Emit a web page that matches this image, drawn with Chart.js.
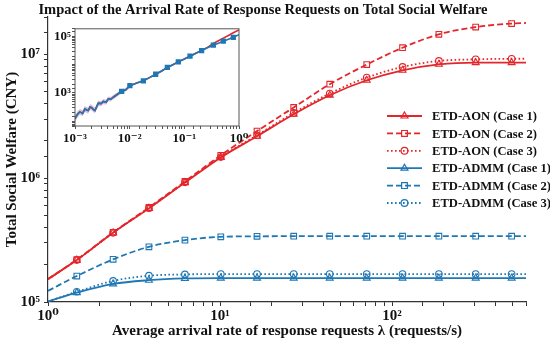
<!DOCTYPE html>
<html>
<head>
<meta charset="utf-8">
<script src="https://cdn.jsdelivr.net/npm/chart.js@4.4.1/dist/chart.umd.min.js"></script>
<style>
  html, body { margin: 0; padding: 0; background: #fff; }
  #wrap { position: relative; width: 550px; height: 345px; }
  #main-graph { position: absolute; left: 0; top: 0; }
  #inset-graph { position: absolute; left: 38px; top: 20px; }
</style>
</head>
<body>
<div id="wrap">
  <canvas id="main-graph" width="550" height="345"></canvas>
  <canvas id="inset-graph" width="213" height="124"></canvas>
</div>
<script>
// --< Data >--
const lambdaX = [1, 1.47, 2.39, 3.86, 6.25, 10.1, 16.4, 26.8, 43.4, 71.2, 115, 187, 306, 495, 600];
const aonCase1 = [1.53e5, 2.18e5, 3.62e5, 5.7e5, 9.2e5, 1.47e6, 2.18e6, 3.28e6, 4.67e6, 6.17e6, 7.43e6, 8.3e6, 8.57e6, 8.57e6, 8.57e6];
const aonCase2 = [1.53e5, 2.2e5, 3.65e5, 5.8e5, 9.4e5, 1.53e6, 2.4e6, 3.72e6, 5.73e6, 8.26e6, 1.13e7, 1.45e7, 1.66e7, 1.77e7, 1.79e7];
const aonCase3 = [1.53e5, 2.18e5, 3.62e5, 5.72e5, 9.25e5, 1.48e6, 2.22e6, 3.36e6, 4.82e6, 6.49e6, 7.9e6, 8.84e6, 9.1e6, 9.2e6, 9.2e6];
const admmCase1 = [1.01e5, 1.19e5, 1.40e5, 1.50e5, 1.55e5, 1.56e5, 1.56e5, 1.56e5, 1.56e5, 1.56e5, 1.56e5, 1.56e5, 1.56e5, 1.56e5, 1.56e5];
const admmCase2 = [1.23e5, 1.62e5, 2.21e5, 2.79e5, 3.16e5, 3.36e5, 3.39e5, 3.4e5, 3.4e5, 3.4e5, 3.4e5, 3.4e5, 3.4e5, 3.4e5, 3.4e5];
const admmCase3 = [1.01e5, 1.21e5, 1.48e5, 1.63e5, 1.67e5, 1.68e5, 1.68e5, 1.68e5, 1.68e5, 1.68e5, 1.68e5, 1.68e5, 1.68e5, 1.68e5, 1.68e5];
const seriesLabels = ["ETD-AON (Case 1)", "ETD-AON (Case 2)", "ETD-AON (Case 3)", "ETD-ADMM (Case 1)", "ETD-ADMM (Case 2)", "ETD-ADMM (Case 3)"];

// inset (low arrival rates)
const insetX = [0.001, 0.00112, 0.00123, 0.00138, 0.00152, 0.00163, 0.00175, 0.00188, 0.00202, 0.00216, 0.00232, 0.0025, 0.00267, 0.003, 0.0033, 0.0037, 0.00407, 0.0045, 0.00502, 0.006, 0.00714, 0.0085, 0.0101, 0.0135, 0.0178, 0.023, 0.0299, 0.0385, 0.0489, 0.0615, 0.0776, 0.1, 0.127, 0.163, 0.207, 0.265, 0.339, 0.42, 0.516, 0.64, 0.787, 1.0];
const insetAdmm = [123, 180, 214, 190, 275, 250, 240, 320, 302, 265, 240, 330, 437, 420, 501, 470, 617, 600, 708, 900, 1150, 1300, 1820, 2250, 2690, 3500, 4600, 6000, 8000, 10000, 12600, 15800, 20000, 25500, 31600, 39800, 49000, 57500, 67600, 80000, 93300, 115000];
const insetAon = [123, 180, 214, 190, 275, 250, 240, 320, 302, 265, 240, 330, 437, 420, 501, 470, 617, 600, 708, 900, 1150, 1300, 1820, 2250, 2690, 3500, 4600, 6000, 8000, 10000, 12600, 15800, 20000, 25500, 31600, 41000, 56000, 70000, 87000, 108000, 135000, 170000];
const bandLo = [95, 140, 170, 150, 215, 195, 190, 255, 240, 210, 195, 265, 350, 340, 410, 385, 510, 500, 590, 760, 980, 1120, 1580];
const bandHi = [160, 230, 270, 245, 350, 320, 305, 400, 380, 335, 305, 415, 540, 520, 615, 575, 745, 720, 850, 1070, 1350, 1510, 2100];
// --</ Data >--

const RED = '#e3262b';
const BLUE = '#1f77b4';
const AXIS = '#333';
const SERIF = "'Liberation Serif', 'Times New Roman', 'DejaVu Serif', serif";
const SUP = { '0': '⁰', '1': '¹', '2': '²', '3': '³', '4': '⁴', '5': '⁵', '6': '⁶', '7': '⁷', '8': '⁸', '9': '⁹', '-': '⁻' };

function pow10Label(v, onlyOdd = false) {
  const e = Math.log10(v);
  const r = Math.round(e);
  if (Math.abs(e - r) > 1e-6) return '';
  if (onlyOdd && Math.abs(r % 2) !== 1) return '';
  return '10' + String(r).split('').map(c => SUP[c]).join('');
}

function keepInRange(scale) {
  scale.ticks = scale.ticks.filter(t => t.value >= scale.min * 0.9999 && t.value <= scale.max * 1.0001);
}

function toPoints(xs, ys) { return ys.map((y, i) => ({ x: xs[i], y: y })); }

// --< Main Graph >--
function drawMarker(ctx, style, x, y, r) {
  ctx.beginPath();
  if (style === 'triangle') {
    ctx.moveTo(x, y - r);
    ctx.lineTo(x + r * 0.87, y + r * 0.5);
    ctx.lineTo(x - r * 0.87, y + r * 0.5);
    ctx.closePath();
  } else if (style === 'rect') {
    const h = r * 0.72;
    ctx.rect(x - h, y - h, h * 2, h * 2);
  } else {
    ctx.arc(x, y, r * 0.85, 0, Math.PI * 2);
  }
  ctx.stroke();
}

const legendPlugin = {
  id: 'cornerLegend',
  afterDraw(chart) {
    const ctx = chart.ctx;
    const area = chart.chartArea;
    const x0 = area.right - 139;
    chart.data.datasets.forEach((ds, i) => {
      const y = area.top + 99 + i * 17.4;
      ctx.save();
      ctx.strokeStyle = ds.borderColor;
      ctx.lineWidth = ds.borderWidth;
      ctx.setLineDash(ds.borderDash || []);
      ctx.beginPath();
      ctx.moveTo(x0, y);
      ctx.lineTo(x0 + 35, y);
      ctx.stroke();
      ctx.setLineDash([]);
      ctx.lineWidth = 1.2;
      drawMarker(ctx, ds.pointStyle, x0 + 17.5, y, 4);
      ctx.fillStyle = '#111';
      ctx.font = `bold 12.6px ${SERIF}`;
      ctx.textAlign = 'left';
      ctx.textBaseline = 'middle';
      ctx.fillText(ds.label, x0 + 45, y + 1);
      ctx.restore();
    });
  }
};

function Load_MainGraph() {
  const lastIdx = lambdaX.length - 1;
  const markerRadius = (r) => (c) => (c.dataIndex === 0 || c.dataIndex === lastIdx) ? 0 : r;
  const makeSet = (label, ys, color, dash, style) => ({
    label: label,
    data: toPoints(lambdaX, ys),
    borderColor: color,
    borderWidth: 1.8,
    borderDash: dash,
    pointStyle: style,
    pointRadius: markerRadius(style === 'circle' ? 3.3 : 4),
    pointBorderWidth: 1.1,
    pointBorderColor: color,
    pointBackgroundColor: 'transparent',
    cubicInterpolationMode: 'monotone',
    fill: false,
  });

  new Chart(document.getElementById('main-graph'), {
    type: 'line',
    data: {
      datasets: [
        makeSet(seriesLabels[0], aonCase1, RED, [], 'triangle'),
        makeSet(seriesLabels[1], aonCase2, RED, [6, 3], 'rect'),
        makeSet(seriesLabels[2], aonCase3, RED, [1.6, 2.4], 'circle'),
        makeSet(seriesLabels[3], admmCase1, BLUE, [], 'triangle'),
        makeSet(seriesLabels[4], admmCase2, BLUE, [6, 3], 'rect'),
        makeSet(seriesLabels[5], admmCase3, BLUE, [1.6, 2.4], 'circle'),
      ]
    },
    options: {
      responsive: false,
      animation: false,
      layout: { padding: { left: 0, right: 24, top: 0, bottom: 0 } },
      plugins: {
        legend: { display: false },
        tooltip: { enabled: false },
        title: {
          display: true,
          text: 'Impact of the Arrival Rate of Response Requests on Total Social Welfare',
          color: '#111',
          font: { family: SERIF, size: 14.5, weight: 'bold', lineHeight: 1.0 },
          padding: { top: 2.5, bottom: 0 },
        }
      },
      scales: {
        x: {
          type: 'logarithmic',
          min: 1,
          max: 600,
          afterFit: (s) => { s.height = 43; },
          afterBuildTicks: keepInRange,
          border: { display: true, color: AXIS, width: 1.2 },
          grid: { drawOnChartArea: false, drawTicks: true, tickLength: 4, tickColor: AXIS },
          ticks: {
            autoSkip: false, maxRotation: 0, minRotation: 0, padding: 1, color: '#111',
            font: { family: SERIF, size: 15, weight: 'bold' },
            callback: (v) => pow10Label(v),
          },
          title: {
            display: true,
            text: 'Average arrival rate of response requests λ (requests/s)',
            color: '#111',
            font: { family: SERIF, size: 15, weight: 'bold' },
            padding: { top: 0, bottom: 5 },
          }
        },
        y: {
          type: 'logarithmic',
          min: 1e5,
          max: 2e7,
          afterFit: (s) => { s.width = 48; },
          afterBuildTicks: keepInRange,
          border: { display: true, color: AXIS, width: 1.2 },
          grid: { drawOnChartArea: false, drawTicks: true, tickLength: 4, tickColor: AXIS },
          ticks: {
            autoSkip: false, padding: 4, color: '#111',
            font: { family: SERIF, size: 15, weight: 'bold' },
            callback: (v) => pow10Label(v),
          },
          title: {
            display: true,
            text: 'Total Social Welfare (CNY)',
            color: '#111',
            font: { family: SERIF, size: 15, weight: 'bold' },
            padding: { top: 3, bottom: 0 },
          }
        }
      }
    },
    plugins: [legendPlugin]
  });
}
// --</ Main Graph >--


// --< Inset Graph >--
const insetFramePlugin = {
  id: 'insetFrame',
  beforeDraw(chart) {
    const a = chart.chartArea;
    const ctx = chart.ctx;
    ctx.save();
    ctx.fillStyle = '#fff';
    ctx.fillRect(a.left, a.top, a.right - a.left, a.bottom - a.top);
    ctx.restore();
  },
  afterDraw(chart) {
    const a = chart.chartArea;
    const ctx = chart.ctx;
    ctx.save();
    ctx.strokeStyle = '#555';
    ctx.lineWidth = 1;
    ctx.strokeRect(a.left, a.top, a.right - a.left, a.bottom - a.top);
    ctx.restore();
  }
};

function Load_InsetGraph() {
  const bandX = insetX.slice(0, bandLo.length);
  new Chart(document.getElementById('inset-graph'), {
    type: 'line',
    data: {
      datasets: [
        {
          data: toPoints(insetX, insetAdmm),
          borderColor: BLUE, borderWidth: 1.6,
          pointStyle: 'rect',
          pointRadius: (c) => (c.dataIndex >= 20 && c.dataIndex % 2 === 0) ? 2.6 : 0,
          pointBackgroundColor: BLUE, pointBorderColor: BLUE,
          fill: false,
        },
        {
          data: toPoints(insetX, insetAon),
          borderColor: RED, borderWidth: 1.6, pointRadius: 0, fill: false,
        },
        {
          data: toPoints(bandX, bandLo),
          borderWidth: 0, pointRadius: 0, fill: false,
        },
        {
          data: toPoints(bandX, bandHi),
          borderWidth: 0, pointRadius: 0,
          fill: '-1', backgroundColor: 'rgba(150, 100, 165, 0.4)',
        },
      ]
    },
    options: {
      responsive: false,
      animation: false,
      layout: { padding: { left: 0, right: 12, top: 7, bottom: 0 } },
      plugins: { legend: { display: false }, tooltip: { enabled: false } },
      scales: {
        x: {
          type: 'logarithmic',
          min: 0.001,
          max: 1,
          afterFit: (s) => { s.height = 18; },
          afterBuildTicks: keepInRange,
          border: { display: false },
          grid: { drawOnChartArea: false, drawTicks: true, tickLength: 3, tickColor: '#555' },
          ticks: {
            autoSkip: false, maxRotation: 0, minRotation: 0, padding: 2, color: '#111',
            font: { family: SERIF, size: 13, weight: 'bold' },
            callback: (v) => pow10Label(v),
          }
        },
        y: {
          type: 'logarithmic',
          min: 68,
          max: 1.86e5,
          afterFit: (s) => { s.width = 37; },
          afterBuildTicks: keepInRange,
          border: { display: false },
          grid: { drawOnChartArea: false, drawTicks: true, tickLength: 3, tickColor: '#555' },
          ticks: {
            autoSkip: false, padding: 1, color: '#111',
            font: { family: SERIF, size: 13, weight: 'bold' },
            callback: (v) => pow10Label(v, true),
          }
        }
      }
    },
    plugins: [insetFramePlugin]
  });
}
// --</ Inset Graph >--

Load_MainGraph();
Load_InsetGraph();
</script>
</body>
</html>
